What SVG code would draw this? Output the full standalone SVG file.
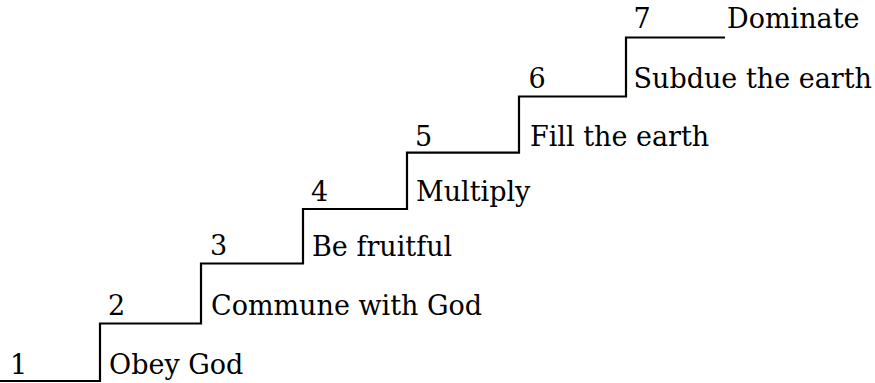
<svg xmlns="http://www.w3.org/2000/svg" width="875" height="383" viewBox="0 0 875 383">
<style>
text{font-family:"DejaVu Serif","Liberation Serif",serif;font-size:27px;fill:#000}
.stair{fill:none;stroke:#000;stroke-width:2.2}
</style>
<rect width="875" height="383" fill="#fff"/>
<g id="connectors">
<path class="stair" d="M0,381 H100 V323.5 H201 V263.5 H303 V209 H407 V152.7 H519 V96.5 H626 V37.5 H725"/>
</g>
<g id="step1"><text x="10" y="374">1</text><text x="109" y="374">Obey God</text></g>
<g id="step2"><text x="108" y="315">2</text><text x="211" y="315">Commune with God</text></g>
<g id="step3"><text x="210" y="255">3</text><text x="312" y="256">Be fruitful</text></g>
<g id="step4"><text x="311" y="201">4</text><text x="416" y="201">Multiply</text></g>
<g id="step5"><text x="415" y="146">5</text><text x="530" y="145.5">Fill the earth</text></g>
<g id="step6"><text x="528.5" y="88">6</text><text x="633.5" y="88">Subdue the earth</text></g>
<g id="step7"><text x="633.5" y="28">7</text><text x="727" y="28">Dominate</text></g>
</svg>
